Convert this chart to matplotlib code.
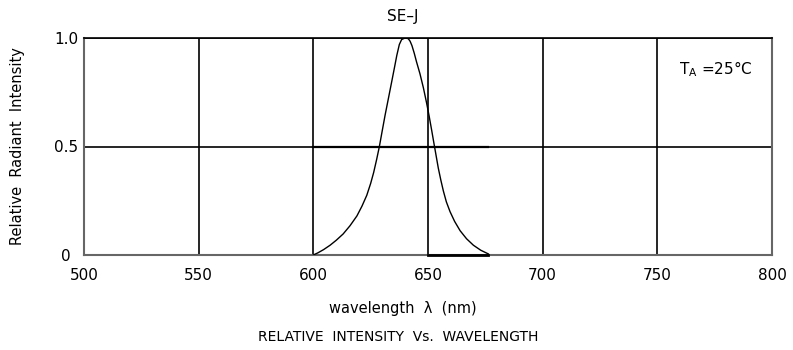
import matplotlib
matplotlib.use("Agg")
import matplotlib.pyplot as plt

# spectrum
wavelength = [600, 602, 604.5, 607.3, 610, 613, 616, 619, 621.2, 623.3, 625, 626.3,
              627.6, 628.8, 630, 631.3, 632.8, 634.2, 635.4, 636.4, 637.5, 638.5,
              640, 641.4, 642.2, 643, 644, 645, 646.5, 648, 649.4, 650.5, 651.6,
              652.5, 653.5, 654.5, 655.6, 656.7, 658, 659.6, 661.6, 664, 666.8,
              669.8, 673, 676.3]
intensity = [0, 0.01, 0.025, 0.045, 0.068, 0.097, 0.135, 0.18, 0.225, 0.275, 0.33, 0.38,
             0.44, 0.5, 0.57, 0.645, 0.725, 0.8, 0.865, 0.92, 0.97, 0.993,
             1.0, 0.997, 0.985, 0.965, 0.93, 0.89, 0.835, 0.77, 0.70, 0.64, 0.575,
             0.52, 0.46, 0.40, 0.345, 0.295, 0.245, 0.20, 0.155, 0.112, 0.075,
             0.045, 0.022, 0.005]

x_ticks = [500, 550, 600, 650, 700, 750, 800]
y_ticks = [0, 0.5, 1.0]
y_tick_labels = ["0", "0.5", "1.0"]

plt.rcParams['font.family'] = ['DejaVu Sans']

fig = plt.figure(figsize=(7.93, 3.5), dpi=100)
ax = fig.add_axes([84 / 793, 1 - 255 / 350, 688 / 793, 217 / 350])

ax.set_xlim(500, 800)
ax.set_ylim(0, 1.0)
ax.set_xticks(x_ticks)
ax.set_yticks(y_ticks)
ax.set_yticklabels(y_tick_labels)
ax.grid(True, color="black", lw=1.2)
ax.tick_params(length=0, labelsize=11)
ax.tick_params(axis="x", pad=9)
ax.tick_params(axis="y", pad=13)
for lab in ax.get_yticklabels():
    lab.set_ha("center")

# darker bits of the original drawing
ax.plot([wavelength[0], wavelength[-1]], [0.5, 0.5], color="black", lw=1.6, zorder=3)
ax.plot([650, wavelength[-1]], [0, 0], color="black", lw=2, zorder=4, clip_on=False)

ax.plot(wavelength, intensity, color="black", lw=1.0, zorder=5, solid_joinstyle="round")

for side in ["left", "bottom", "right"]:
    ax.spines[side].set_color("#666666")
    ax.spines[side].set_linewidth(1.5)
ax.spines["top"].set_color("black")
ax.spines["top"].set_linewidth(1.2)

fig.text(679 / 793, 1 - 69 / 350, r"T$_{\mathregular{A}}$ =25°C", fontsize=11,
         ha="left", va="center")

fig.text(403 / 793, 1 - 16 / 350, "SE\u2013J", ha="center", va="center", fontsize=11)
fig.text(18 / 793, 1 - 146 / 350, "Relative  Radiant  Intensity", rotation=90,
         ha="center", va="center", fontsize=10.5)
fig.text(403 / 793, 1 - 308 / 350, "wavelength  λ  (nm)", ha="center", va="center", fontsize=10.5)
fig.text(398 / 793, 1 - 337 / 350, "RELATIVE  INTENSITY  Vs.  WAVELENGTH", ha="center",
         va="center", fontsize=10)

fig.savefig("out.png", dpi=100)
